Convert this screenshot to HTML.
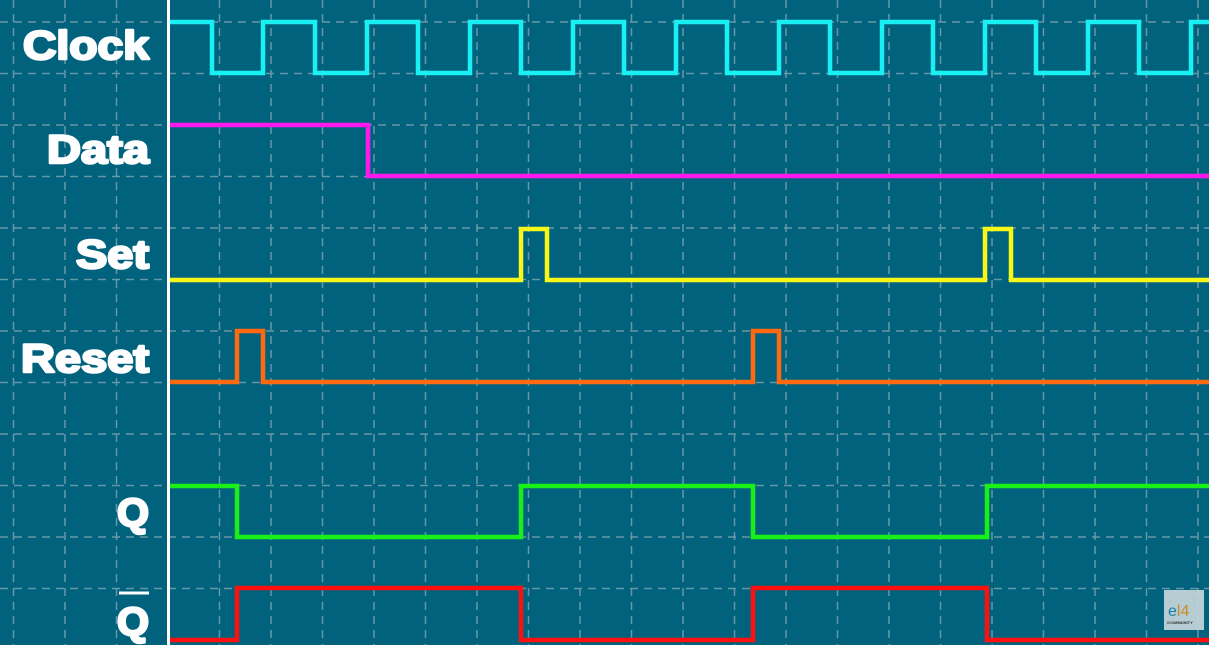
<!DOCTYPE html>
<html><head><style>
html,body{margin:0;padding:0;background:#00627d;}
svg{display:block}
text{font-family:"Liberation Sans",sans-serif;font-weight:bold;fill:#fff;font-size:40px}
.lbl{stroke:#fff;stroke-width:2.5;stroke-linejoin:round}
</style></head><body>
<svg width="1209" height="645" viewBox="0 0 1209 645" xmlns="http://www.w3.org/2000/svg">
<rect width="1209" height="645" fill="#00627d"/>
<g stroke="#9fb4bd" stroke-width="1.5" stroke-dasharray="8,6" opacity="0.65">
<line x1="13.5" y1="0" x2="13.5" y2="645"/><line x1="65" y1="0" x2="65" y2="645"/><line x1="116.5" y1="0" x2="116.5" y2="645"/><line x1="219.5" y1="0" x2="219.5" y2="645"/><line x1="271" y1="0" x2="271" y2="645"/><line x1="322.5" y1="0" x2="322.5" y2="645"/><line x1="374" y1="0" x2="374" y2="645"/><line x1="425.5" y1="0" x2="425.5" y2="645"/><line x1="477" y1="0" x2="477" y2="645"/><line x1="528.5" y1="0" x2="528.5" y2="645"/><line x1="580" y1="0" x2="580" y2="645"/><line x1="631.5" y1="0" x2="631.5" y2="645"/><line x1="683" y1="0" x2="683" y2="645"/><line x1="734.5" y1="0" x2="734.5" y2="645"/><line x1="786" y1="0" x2="786" y2="645"/><line x1="837.5" y1="0" x2="837.5" y2="645"/><line x1="889" y1="0" x2="889" y2="645"/><line x1="940.5" y1="0" x2="940.5" y2="645"/><line x1="992" y1="0" x2="992" y2="645"/><line x1="1043.5" y1="0" x2="1043.5" y2="645"/><line x1="1095" y1="0" x2="1095" y2="645"/><line x1="1146.5" y1="0" x2="1146.5" y2="645"/><line x1="1198" y1="0" x2="1198" y2="645"/>
<line x1="0" y1="22" x2="1209" y2="22"/><line x1="0" y1="73.5" x2="1209" y2="73.5"/><line x1="0" y1="125" x2="1209" y2="125"/><line x1="0" y1="176.5" x2="1209" y2="176.5"/><line x1="0" y1="228" x2="1209" y2="228"/><line x1="0" y1="279.5" x2="1209" y2="279.5"/><line x1="0" y1="331" x2="1209" y2="331"/><line x1="0" y1="382.5" x2="1209" y2="382.5"/><line x1="0" y1="434" x2="1209" y2="434"/><line x1="0" y1="485.5" x2="1209" y2="485.5"/><line x1="0" y1="537" x2="1209" y2="537"/><line x1="0" y1="588.5" x2="1209" y2="588.5"/>
</g>
<line x1="168.5" y1="0" x2="168.5" y2="645" stroke="#fff" stroke-width="3"/>
<g class="lbl">
<text x="23" y="59" textLength="126" lengthAdjust="spacingAndGlyphs">Clock</text>
<text x="47" y="163" textLength="102" lengthAdjust="spacingAndGlyphs">Data</text>
<text x="76" y="268" textLength="73" lengthAdjust="spacingAndGlyphs">Set</text>
<text x="21" y="372" textLength="128" lengthAdjust="spacingAndGlyphs">Reset</text>
<text x="117" y="526" textLength="32" lengthAdjust="spacingAndGlyphs">Q</text>
<text x="117" y="635" textLength="32" lengthAdjust="spacingAndGlyphs">Q</text>
</g>
<line x1="119" y1="593" x2="149" y2="593" stroke="#fff" stroke-width="3"/>
<g fill="none" stroke-width="4.5" stroke-linejoin="miter">
<polyline stroke="#18f0f4" points="170,22 212,22 212,73 263,73 263,22 315,22 315,73 367,73 367,22 418,22 418,73 470,73 470,22 521,22 521,73 573,73 573,22 624,22 624,73 676,73 676,22 727,22 727,73 779,73 779,22 830,22 830,73 882,73 882,22 933,22 933,73 985,73 985,22 1036,22 1036,73 1088,73 1088,22 1139,22 1139,73 1191,73 1191,22 1209,22"/>
<polyline stroke="#ff18ee" points="170,125 368,125 368,176 1209,176"/>
<polyline stroke="#f8f818" points="170,280 521,280 521,229 547,229 547,280 985,280 985,229 1011,229 1011,280 1209,280"/>
<polyline stroke="#ff6a10" points="170,382 237,382 237,331 263,331 263,382 753,382 753,331 779,331 779,382 1209,382"/>
<polyline stroke="#18f018" points="170,486 237,486 237,537 521,537 521,486 753,486 753,537 987,537 987,486 1209,486"/>
<polyline stroke="#ff1010" points="170,640 237,640 237,588 521,588 521,640 753,640 753,588 987,588 987,640 1209,640"/>
</g>
<rect x="1164" y="590" width="40" height="40" fill="#c9d8dc" opacity="0.9"/>
<text x="1168" y="616" style="font-size:16px;fill:#1b7fa8;font-weight:normal">e<tspan style="fill:#c98a2a">l4</tspan></text>
<text x="1167" y="624" style="font-size:4px;fill:#333">/COMMUNITY</text>
</svg>
</body></html>
